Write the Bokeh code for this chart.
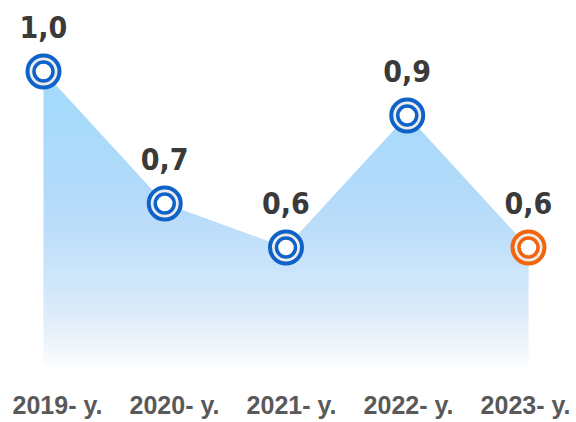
from bokeh.plotting import figure
from bokeh.models import ColumnDataSource
from bokeh.core.properties import value
from bokeh.embed import file_html
from bokeh.resources import INLINE

years = ["2019- y.", "2020- y.", "2021- y.", "2022- y.", "2023- y."]
values = [1.0, 0.7, 0.6, 0.9, 0.6]
value_labels = ["1,0", "0,7", "0,6", "0,9", "0,6"]
ring_colors = ["#0f63c8", "#0f63c8", "#0f63c8", "#0f63c8", "#f2650e"]

xs = list(range(len(values)))
y_start, y_end = 0.2023, 1.1614
x_start, x_end = -0.3546, 4.3959

p = figure(width=576, height=422, x_range=(x_start, x_end), y_range=(y_start, y_end),
           output_backend="svg", toolbar_location=None, min_border=0)
p.axis.visible = False
p.grid.visible = False
p.outline_line_color = None
p.background_fill_color = "white"

# area
p.varea(x=xs, y1=[y_start] * len(xs), y2=values, fill_color="#a6dafa", fill_alpha=1.0)

# white fade (cumulative overlapping bands to avoid seams)
fade_top, fade_bottom = max(values), 0.3205
n = 50
step = (fade_top - fade_bottom) / n
def opacity(h):
    f = (fade_top - h) / (fade_top - fade_bottom)
    return min(0.995, max(0.0, f) ** 1.6)
tops, alphas = [], []
prev = 0.0
for k in range(n):
    top = fade_top - step * k
    o = opacity(top - step * 0.5)
    a = 1 - (1 - o) / (1 - prev)
    prev = o
    tops.append(top)
    alphas.append(max(0.0, a))
p.quad(left=[x_start] * n, right=[x_end] * n, bottom=[y_start] * n, top=tops,
       fill_color="white", fill_alpha=alphas, line_color=None)
p.quad(left=[x_start], right=[x_end], bottom=[y_start], top=[fade_bottom],
       fill_color="white", fill_alpha=1.0, line_color=None)

src = ColumnDataSource(dict(x=xs, y=values, c=ring_colors, lab=value_labels))

# markers
p.scatter(x="x", y="y", source=src, size=32, fill_color="#ececec", line_color="c", line_width=4)
p.scatter(x="x", y="y", source=src, size=19, fill_color="white", line_color="c", line_width=3.5)

# value labels
p.text(x="x", y="y", text="lab", source=src, text_align="center", text_baseline="alphabetic",
       y_offset=-45, text_font=value("DejaVu Sans Condensed"), text_font_style="bold",
       text_font_size="30px", text_color="#3a3a3a")

# category labels
label_x = [0.1155 + 0.965 * i for i in xs]
p.text(x=label_x, y=[0.2432] * len(xs), text=years, text_align="center", text_baseline="middle",
       text_font=value("Liberation Sans"), text_font_style="bold", text_font_size="25px",
       text_color="#595959")

open("out.html", "w").write(file_html(p, INLINE))
